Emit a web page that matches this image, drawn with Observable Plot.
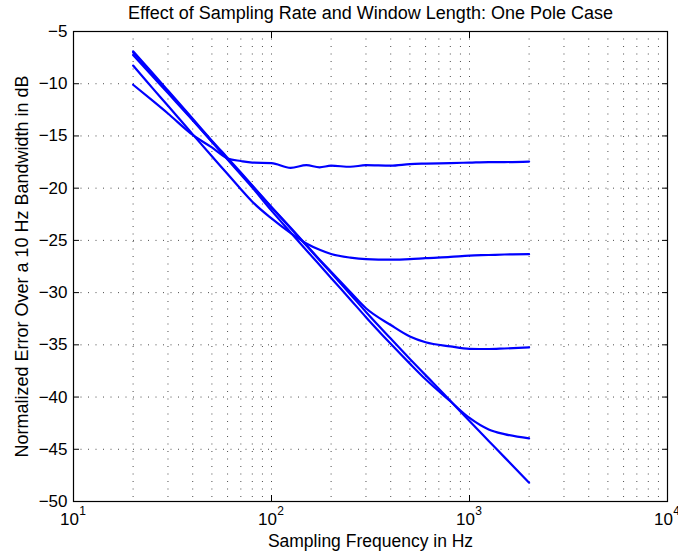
<!DOCTYPE html>
<html><head><meta charset="utf-8">
<script src="https://cdn.jsdelivr.net/npm/d3@7"></script>
<script src="https://cdn.jsdelivr.net/npm/@observablehq/plot@0.6"></script>
<style>body{margin:0;background:#fff}</style>
</head><body><div id="chart"></div>
<script>
const title = "Effect of Sampling Rate and Window Length: One Pole Case";
const xLabel = "Sampling Frequency in Hz";
const yLabel = "Normalized Error Over a 10 Hz Bandwidth in dB";

// Sampling frequency (Hz)
const freqs = [20, 25, 30, 40, 50, 60, 70, 80, 100, 125, 150, 175, 200, 250, 300, 400, 500, 600, 800, 1000, 1250, 1500, 2000];
// Normalized error (dB), one array per curve
const err17 = [-10.1, -11.6, -12.85, -14.9, -16.1, -17.15, -17.4, -17.55, -17.6, -18.05, -17.8, -18.0, -17.85, -17.95, -17.8, -17.85, -17.7, -17.65, -17.6, -17.55, -17.5, -17.5, -17.45];
const err26 = [-8.26, -10.4, -12.1, -14.85, -16.95, -18.65, -20.1, -21.3, -22.9, -24.3, -25.3, -25.9, -26.3, -26.65, -26.8, -26.85, -26.8, -26.7, -26.58, -26.45, -26.4, -26.35, -26.32];
const err35 = [-6.9, -8.95, -10.65, -13.35, -15.45, -17.1, -18.5, -19.75, -21.8, -23.8, -25.45, -26.85, -28.0, -29.95, -31.5, -33.1, -34.2, -34.75, -35.15, -35.38, -35.4, -35.35, -35.25];
const err44 = [-7.0, -9.05, -10.75, -13.45, -15.55, -17.25, -18.7, -19.95, -22.15, -24.25, -25.95, -27.35, -28.6, -30.65, -32.35, -34.9, -36.8, -38.3, -40.4, -42.0, -43.1, -43.55, -43.95];
const err48 = [-7.25, -9.25, -10.9, -13.5, -15.55, -17.2, -18.6, -19.8, -21.85, -23.85, -25.5, -26.9, -28.1, -30.15, -31.85, -34.4, -36.35, -37.9, -40.35, -42.3, -44.2, -45.75, -48.2];

// Axis ticks
const xTicks = [10, 100, 1000, 10000];
const xTickExp = ["1", "2", "3", "4"];
const xGrid = [20, 30, 40, 50, 60, 70, 80, 90, 100, 200, 300, 400, 500, 600, 700, 800, 900, 1000, 2000, 3000, 4000, 5000, 6000, 7000, 8000, 9000];
const yTicks = [-50, -45, -40, -35, -30, -25, -20, -15, -10, -5];
const yGrid = [-45, -40, -35, -30, -25, -20, -15, -10];

const series = [err17, err26, err35, err44, err48];
const rows = [];
series.forEach((s, k) => freqs.forEach((f, i) => rows.push({series: k, f, db: s[i]})));

const dotted = {stroke: "#000", strokeOpacity: 0.7, strokeWidth: 1, strokeDasharray: "1,6.5"};

const chart = Plot.plot({
  width: 678, height: 555,
  marginLeft: 73, marginRight: 11, marginTop: 31, marginBottom: 54,
  style: {fontFamily: "'Liberation Sans', Arial, Helvetica, sans-serif", fontSize: "17px", background: "#fff", color: "#000"},
  x: {type: "log", domain: [10, 10000]},
  y: {domain: [-50, -5]},
  marks: [
    Plot.gridX(xGrid, dotted),
    Plot.gridY(yGrid, dotted),
    Plot.line(rows, {x: "f", y: "db", z: "series", stroke: "#0000ff", strokeWidth: 2.2, curve: "monotone-x"}),
    Plot.frame({stroke: "#000", strokeWidth: 1.2}),
    Plot.axisX(xTicks, {anchor: "bottom", tickSize: -6, fill: "none", label: null}),
    Plot.axisX(xTicks, {anchor: "top", tickSize: -6, fill: "none", label: null}),
    Plot.axisY(yTicks, {anchor: "left", tickSize: -6, fill: "none", label: null}),
    Plot.axisY(yTicks, {anchor: "right", tickSize: -6, fill: "none", label: null}),
    Plot.axisY(yTicks, {anchor: "left", tickSize: 0, tickPadding: 6, label: null}),
    Plot.text(xTicks, {x: d => d, frameAnchor: "bottom", text: () => "10", dy: 23, dx: -4}),
    Plot.text(xTicks, {x: d => d, frameAnchor: "bottom", text: (d, i) => xTickExp[i], dy: 13, dx: 9, fontSize: 12}),
    Plot.text([xLabel], {frameAnchor: "bottom", dy: 45, fontSize: 17.5}),
    Plot.text([yLabel], {frameAnchor: "left", textAnchor: "middle", rotate: -90, dx: -51, fontSize: 18}),
    Plot.text([title], {frameAnchor: "top", dy: -25, fontSize: 18})
  ]
});
document.getElementById("chart").appendChild(chart);
</script>
</body></html>
